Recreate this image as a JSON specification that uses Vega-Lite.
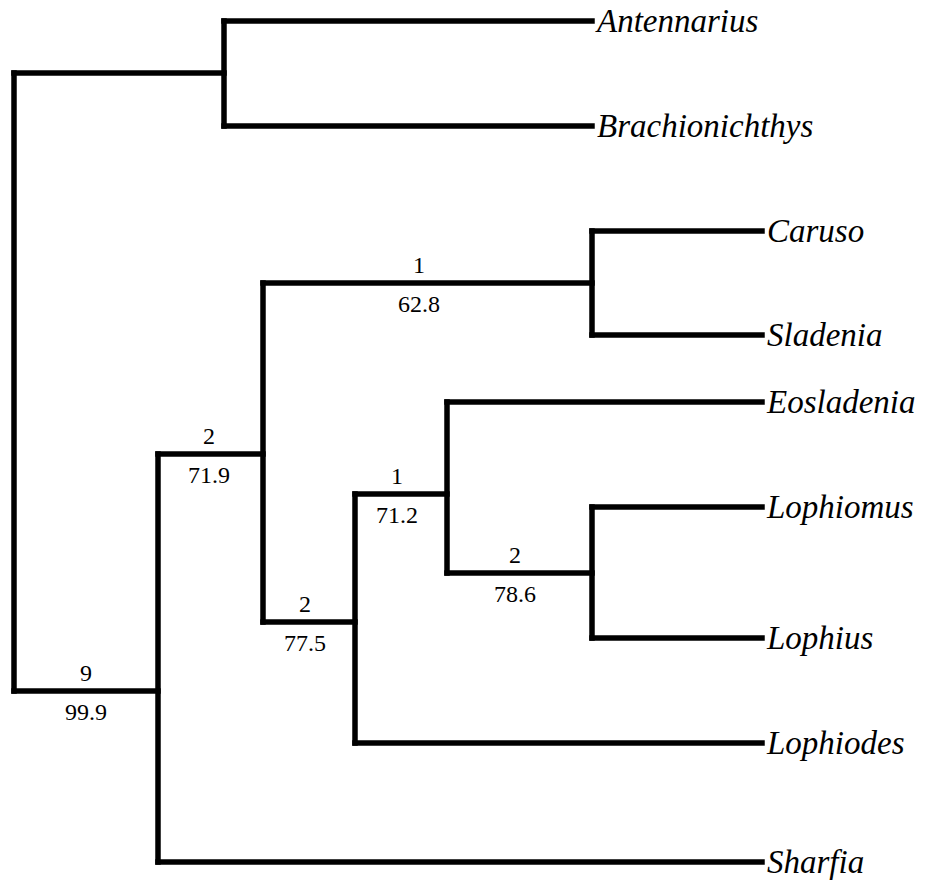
{
  "$schema": "https://vega.github.io/schema/vega-lite/v6.json",
  "width": 925,
  "height": 884,
  "autosize": "none",
  "padding": 0,
  "background": "white",
  "config": {"view": {"stroke": null}},
  "datasets": {
    "segments": [
      {"x": 14, "x2": 224, "y": 73, "y2": 73},
      {"x": 224, "x2": 592, "y": 21, "y2": 21},
      {"x": 224, "x2": 592, "y": 126, "y2": 126},
      {"x": 14, "x2": 158, "y": 691, "y2": 691},
      {"x": 158, "x2": 263, "y": 454, "y2": 454},
      {"x": 158, "x2": 762, "y": 862, "y2": 862},
      {"x": 263, "x2": 592, "y": 283, "y2": 283},
      {"x": 592, "x2": 762, "y": 231, "y2": 231},
      {"x": 592, "x2": 762, "y": 335, "y2": 335},
      {"x": 263, "x2": 355, "y": 622, "y2": 622},
      {"x": 355, "x2": 447, "y": 494, "y2": 494},
      {"x": 355, "x2": 762, "y": 743, "y2": 743},
      {"x": 447, "x2": 762, "y": 402, "y2": 402},
      {"x": 447, "x2": 592, "y": 573, "y2": 573},
      {"x": 592, "x2": 762, "y": 507, "y2": 507},
      {"x": 592, "x2": 762, "y": 638, "y2": 638},
      {"x": 14, "x2": 14, "y": 73, "y2": 691},
      {"x": 224, "x2": 224, "y": 21, "y2": 126},
      {"x": 158, "x2": 158, "y": 454, "y2": 862},
      {"x": 263, "x2": 263, "y": 283, "y2": 622},
      {"x": 592, "x2": 592, "y": 231, "y2": 335},
      {"x": 355, "x2": 355, "y": 494, "y2": 743},
      {"x": 447, "x2": 447, "y": 402, "y2": 573},
      {"x": 592, "x2": 592, "y": 507, "y2": 638}
    ],
    "leaves": [
      {"name": "Antennarius", "x": 597, "y": 21},
      {"name": "Brachionichthys", "x": 597, "y": 126},
      {"name": "Caruso", "x": 767, "y": 231},
      {"name": "Sladenia", "x": 767, "y": 335},
      {"name": "Eosladenia", "x": 767, "y": 402},
      {"name": "Lophiomus", "x": 767, "y": 507},
      {"name": "Lophius", "x": 767, "y": 638},
      {"name": "Lophiodes", "x": 767, "y": 743},
      {"name": "Sharfia", "x": 767, "y": 862}
    ],
    "support": [
      {"steps": "9", "bootstrap": "99.9", "x": 86, "y": 691},
      {"steps": "2", "bootstrap": "71.9", "x": 209, "y": 454},
      {"steps": "1", "bootstrap": "62.8", "x": 419, "y": 283},
      {"steps": "2", "bootstrap": "77.5", "x": 305, "y": 622},
      {"steps": "1", "bootstrap": "71.2", "x": 397, "y": 494},
      {"steps": "2", "bootstrap": "78.6", "x": 515, "y": 573}
    ]
  },
  "layer": [
    {
      "data": {"name": "segments"},
      "mark": {"type": "rule", "stroke": "black", "strokeWidth": 5.5, "strokeCap": "square"},
      "encoding": {
        "x": {"field": "x", "type": "quantitative", "scale": {"domain": [0, 925], "nice": false, "zero": false}, "axis": null},
        "x2": {"field": "x2"},
        "y": {"field": "y", "type": "quantitative", "scale": {"domain": [0, 884], "nice": false, "zero": false, "reverse": true}, "axis": null},
        "y2": {"field": "y2"}
      }
    },
    {
      "data": {"name": "leaves"},
      "mark": {"type": "text", "align": "left", "baseline": "alphabetic", "dy": 11, "font": "Liberation Serif", "fontStyle": "italic", "fontSize": 33, "color": "black"},
      "encoding": {
        "x": {"field": "x", "type": "quantitative"},
        "y": {"field": "y", "type": "quantitative"},
        "text": {"field": "name"}
      }
    },
    {
      "data": {"name": "support"},
      "mark": {"type": "text", "align": "center", "baseline": "alphabetic", "dy": -10, "font": "Liberation Serif", "fontSize": 24, "color": "black"},
      "encoding": {
        "x": {"field": "x", "type": "quantitative"},
        "y": {"field": "y", "type": "quantitative"},
        "text": {"field": "steps"}
      }
    },
    {
      "data": {"name": "support"},
      "mark": {"type": "text", "align": "center", "baseline": "alphabetic", "dy": 29, "font": "Liberation Serif", "fontSize": 24, "color": "black"},
      "encoding": {
        "x": {"field": "x", "type": "quantitative"},
        "y": {"field": "y", "type": "quantitative"},
        "text": {"field": "bootstrap"}
      }
    }
  ]
}
